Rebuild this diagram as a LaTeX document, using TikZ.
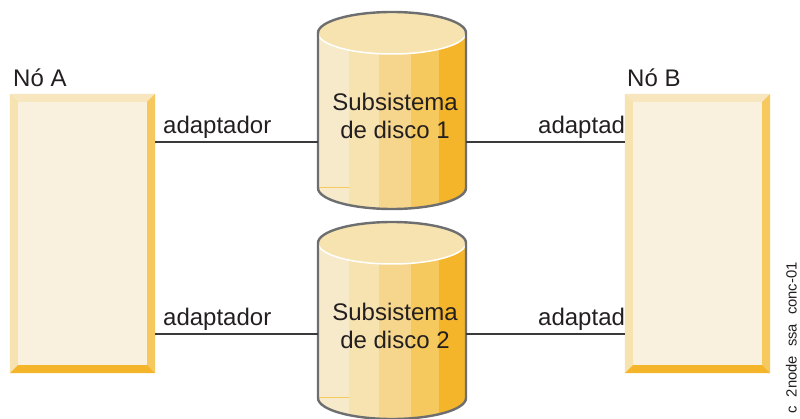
\documentclass[tikz,border=0pt]{standalone}
\usepackage{fontspec}
\setmainfont{Liberation Sans}
\usepackage{xcolor}
\definecolor{Ink}{RGB}{35,31,32}
\definecolor{Rim}{RGB}{109,110,112}
\definecolor{Wire}{RGB}{58,58,60}
\definecolor{FaceA}{RGB}{249,241,222}
\definecolor{GoldA}{RGB}{246,234,203}
\definecolor{GoldB}{RGB}{247,227,176}
\definecolor{GoldC}{RGB}{246,214,140}
\definecolor{GoldD}{RGB}{245,201,93}
\definecolor{GoldE}{RGB}{245,181,43}
\tikzset{
  nodebox/.style={fill=FaceA,inner sep=0pt,minimum width=145pt,minimum height=279pt},
  disklabel/.style={align=center,text=Ink,font=\fontsize{24}{28}\selectfont,inner sep=0pt,minimum width=148pt},
  plainlabel/.style={anchor=base west,text=Ink,font=\fontsize{24}{28}\selectfont,inner sep=0pt},
  link/.style={line width=2pt,Wire}
}
\newcommand{\BevelBox}[2]{% name center
\node[nodebox] (#1) at #2 {};
\fill[GoldB!70!FaceA] (#1.north west) -- ++(8,8) -- ([shift={(-8,8)}]#1.north east) -- (#1.north east) -- cycle;
\fill[GoldB] (#1.north west) -- ++(8,8) -- ([shift={(8,-8)}]#1.south west) -- (#1.south west) -- cycle;
\fill[GoldD] (#1.north east) -- ++(-8,8) -- ([shift={(-8,-8)}]#1.south east) -- (#1.south east) -- cycle;
\fill[GoldE] (#1.south west) -- ++(8,-8) -- ([shift={(-8,-8)}]#1.south east) -- (#1.south east) -- cycle;
}
\newcommand{\DiskStack}[5]{% name ytop ybottom ywire number
\begin{scope}
\clip (318,#2) arc[start angle=180,end angle=0,x radius=74,y radius=-21] -- (466,#3) arc[start angle=0,end angle=180,x radius=74,y radius=21] -- cycle;
\fill[GoldA] (318,#2-30) rectangle (349,#3+30);
\fill[GoldB] (349,#2-30) rectangle (379,#3+30);
\fill[GoldC] (379,#2-30) rectangle (411,#3+30);
\fill[GoldD] (411,#2-30) rectangle (439,#3+30);
\fill[GoldE] (439,#2-30) rectangle (466,#3+30);
\draw[line width=0.7pt,GoldD] (318,#3-1) -- (349,#3-1);
\end{scope}
\fill[GoldB] (392,#2) ellipse[x radius=74,y radius=21];
\draw[line width=1.5pt,white] (318,#2) arc[start angle=180,end angle=360,x radius=74,y radius=-21];
\draw[line width=2.4pt,Rim] (318,#2) arc[start angle=180,end angle=0,x radius=74,y radius=-21] -- (466,#3) arc[start angle=0,end angle=180,x radius=74,y radius=21] -- cycle;
\coordinate (#1w) at (318,#4);
\coordinate (#1e) at (466,#4);
\node[disklabel] (#1) at (395,#2+83) {Subsistema\\de disco #5};
}

\begin{document}
\begin{tikzpicture}[x=1pt,y=-1pt]
\useasboundingbox (0,0) rectangle (800,419);
\BevelBox{nodeA}{(82.5,233.5)}
\BevelBox{nodeB}{(697.5,233.5)}
\DiskStack{diskA}{33}{188}{142}{1}
\DiskStack{diskB}{243}{398}{334}{2}
% wires run level with the disk ports
\draw[link] (nodeA.east |- diskAw) -- (diskAw);
\draw[link] (diskAe) -- (nodeB.west |- diskAe);
\draw[link] (nodeA.east |- diskBw) -- (diskBw);
\draw[link] (diskBe) -- (nodeB.west |- diskBe);
\node[plainlabel] (titleA) at (13,87) {Nó A};
\node[plainlabel] (titleB) at (627,87) {Nó B};
\node[plainlabel] (adapA) at (163,134) {adaptador};
\node[plainlabel] (adapB) at (538,134) {adaptad};
\node[plainlabel] (adapC) at (163,326) {adaptador};
\node[plainlabel] (adapD) at (538,326) {adaptad};
\node[anchor=base east,rotate=90,text=Ink,inner sep=0pt,font=\fontsize{14.8}{16}\selectfont] (figcode) at (796.5,262) {c\hspace{9pt}2node\hspace{9pt}ssa\hspace{9pt}conc-01};
\end{tikzpicture}
\end{document}
